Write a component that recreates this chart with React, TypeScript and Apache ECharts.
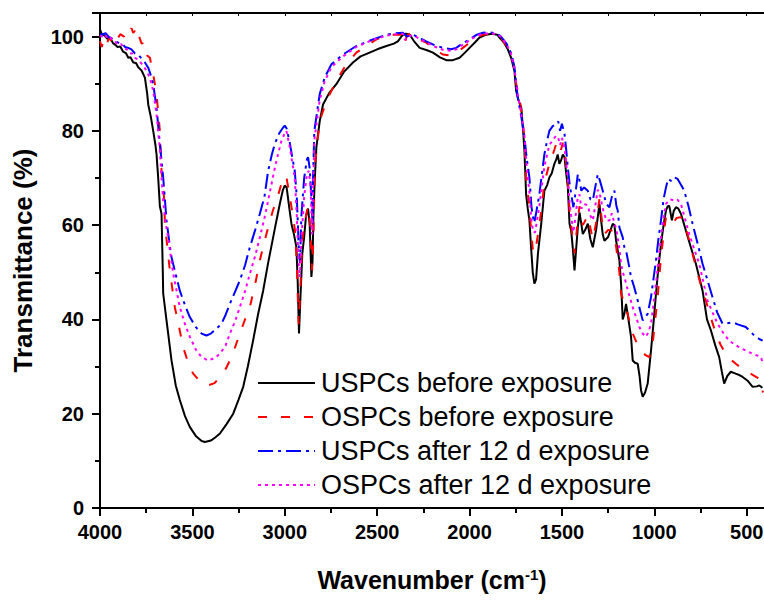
import React, { useEffect, useRef } from "react";
import * as echarts from "echarts";

const seriesNames = [
  "USPCs before exposure",
  "OSPCs before exposure",
  "USPCs after 12 d exposure",
  "OSPCs after 12 d exposure",
];

const xTicks = [4000, 3500, 3000, 2500, 2000, 1500, 1000, 500];
const yTicks = [0, 20, 40, 60, 80, 100];

const uspcBefore: [number, number][] = [
  [4000, 101.5], [3990, 100.5], [3975, 100.2], [3960, 99.5], [3945, 99.8], [3930, 98.6], [3919, 98.3],
  [3905, 97.8], [3890, 97.9], [3875, 96.8], [3860, 96.5], [3847, 95.5], [3835, 95.6], [3820, 94.5],
  [3805, 94.4], [3793, 93.5], [3775, 92.8], [3757, 91.3], [3745, 88], [3739, 85.6], [3725, 83],
  [3712, 80], [3700, 77], [3694, 75], [3685, 70], [3676, 64], [3667, 62.4], [3660, 50], [3658, 45.5],
  [3640, 39.8], [3613, 31.3], [3590, 26], [3568, 22.9], [3540, 19.5], [3514, 17.2], [3480, 15.2],
  [3450, 14.2], [3432, 14], [3400, 14.3], [3375, 15], [3351, 15.8], [3315, 17.8], [3279, 20],
  [3250, 23], [3225, 25.7], [3200, 30], [3171, 35.6], [3145, 41], [3117, 46.1], [3090, 52],
  [3063, 57.4], [3045, 61], [3027, 64.5], [3010, 67.5], [3000, 68.4], [2990, 68], [2975, 63.5],
  [2964, 60.3], [2950, 58], [2937, 55.3], [2930, 48], [2923, 37], [2915, 45], [2905, 54],
  [2895, 57.5], [2885, 62], [2874, 63.5], [2865, 60], [2856, 49], [2850, 52], [2845, 62],
  [2838, 69.4], [2829, 76.5], [2811, 82], [2793, 85.6], [2760, 88], [2721, 89.9], [2680, 92.5],
  [2631, 94.5], [2590, 95.8], [2541, 96.6], [2500, 97.3], [2450, 98], [2410, 98.5], [2388, 99],
  [2361, 100.4], [2345, 100.6], [2324, 100.4], [2300, 99], [2270, 97.6], [2230, 97.1], [2198, 96.6],
  [2160, 95.6], [2126, 95], [2090, 95], [2054, 95.5], [2025, 96.6], [2000, 97.6], [1970, 98.8],
  [1946, 99.8], [1910, 100.4], [1880, 100.6], [1850, 100.4], [1838, 99.8], [1815, 98.8], [1793, 97.3],
  [1775, 95.5], [1757, 92.7], [1748, 88.5], [1735, 86.5], [1720, 84.9], [1710, 80], [1703, 75.8],
  [1694, 66.6], [1685, 63.5], [1676, 61], [1667, 55.3], [1658, 50], [1649, 47.6], [1640, 48.5],
  [1630, 53.9], [1612, 60.3], [1595, 67.3], [1580, 68.5], [1568, 70.1], [1555, 71], [1541, 73],
  [1530, 74], [1523, 75], [1514, 73], [1505, 73.7], [1495, 75], [1486, 74.4], [1477, 71],
  [1468, 68], [1459, 60.3], [1450, 58.8], [1441, 55], [1432, 50.4], [1423, 55], [1414, 59.5],
  [1405, 62.7], [1396, 60.5], [1387, 58.1], [1374, 59], [1360, 60.3], [1346, 57], [1333, 55.3],
  [1315, 59], [1297, 64.5], [1288, 61], [1279, 58], [1270, 56.7], [1250, 57.5], [1225, 60.3],
  [1216, 60], [1207, 56.7], [1189, 52.5], [1180, 47.6], [1171, 40], [1162, 41.2], [1153, 43.3],
  [1140, 40], [1126, 36.3], [1117, 31.3], [1105, 30.8], [1090, 30.6], [1080, 28], [1072, 25],
  [1063, 23.6], [1050, 24.5], [1036, 26.4], [1018, 33.4], [1005, 39], [991, 45.4], [978, 51],
  [964, 56], [950, 60], [937, 63.1], [928, 64], [919, 64.1], [905, 61], [895, 63], [883, 63.8],
  [870, 63.5], [856, 62.4], [845, 61], [829, 58.8], [800, 55], [775, 51.8], [739, 46.1], [715, 40],
  [694, 37.7], [670, 34.5], [649, 32], [635, 29], [622, 26.4], [605, 28], [586, 28.9], [560, 28.5],
  [540, 28.2], [522, 27.8], [495, 27], [468, 25.7], [445, 25.8], [432, 26], [415, 25.5],
];

const ospcBefore: [number, number][] = [
  [4000, 99], [3990, 97.8], [3980, 99.5], [3965, 98.3], [3950, 99.8], [3935, 98.8], [3920, 100.2],
  [3905, 99.6], [3890, 100.5], [3870, 100], [3856, 101.2], [3845, 100.6], [3830, 101.8], [3820, 100.8],
  [3811, 101.2], [3800, 99.4], [3790, 100.2], [3775, 98.5], [3757, 98.7], [3745, 96], [3730, 95.5],
  [3712, 92], [3694, 87.8], [3676, 80], [3667, 71.5], [3652, 65.2], [3649, 60.3], [3622, 50.4],
  [3595, 42.6], [3570, 38], [3550, 34.1], [3520, 30.5], [3496, 28.5], [3450, 26.5], [3415, 26],
  [3380, 26.5], [3351, 27.8], [3320, 29.5], [3297, 31.3], [3270, 34], [3243, 37], [3215, 40],
  [3189, 42.6], [3160, 47.5], [3135, 52.5], [3110, 56.5], [3090, 59.5], [3065, 63], [3045, 65.2],
  [3020, 68.5], [3000, 70.5], [2990, 70], [2975, 66.5], [2960, 63], [2945, 59], [2935, 52],
  [2925, 39], [2915, 47], [2905, 57], [2890, 61], [2875, 64], [2862, 60], [2852, 50.4], [2845, 57],
  [2838, 72.2], [2811, 82.1], [2775, 86.3], [2721, 90.6], [2667, 94.1], [2613, 96.6], [2559, 98],
  [2504, 99.4], [2432, 100.4], [2370, 100.4], [2358, 99.5], [2351, 98.3], [2340, 100.2], [2315, 100.8],
  [2280, 99.5], [2234, 98.7], [2190, 97.3], [2144, 96.2], [2100, 96], [2072, 96.6], [2040, 97.5],
  [2000, 98.7], [1960, 99.8], [1928, 100.4], [1890, 100.6], [1850, 100.3], [1830, 99.8], [1800, 98],
  [1775, 96], [1757, 93.5], [1748, 90], [1730, 87], [1715, 83], [1703, 78.5], [1694, 70], [1676, 64],
  [1667, 59], [1658, 55], [1650, 54], [1640, 55.5], [1630, 58], [1612, 63], [1595, 69], [1568, 73],
  [1541, 76], [1525, 78], [1514, 77], [1505, 76], [1495, 77.5], [1486, 76], [1468, 70], [1459, 63],
  [1450, 60], [1432, 54], [1423, 57.5], [1414, 61.5], [1405, 64], [1387, 60], [1360, 62], [1333, 57],
  [1315, 60.5], [1297, 65.5], [1279, 59.5], [1270, 58], [1250, 59], [1225, 58.8], [1207, 55.5],
  [1189, 50], [1180, 45.4], [1171, 44.5], [1162, 44], [1140, 40.5], [1117, 37], [1095, 35],
  [1072, 33.4], [1050, 32.5], [1027, 32], [1009, 34.9], [995, 40], [982, 44.7], [964, 53.2],
  [950, 58], [937, 61.7], [920, 61.5], [901, 60.3], [880, 61.5], [856, 61.7], [838, 60], [820, 58.1],
  [800, 55], [775, 51.1], [750, 47.5], [721, 44], [695, 40.5], [667, 37], [640, 34.5], [613, 32.7],
  [586, 31.5], [559, 30.6], [530, 29.7], [505, 29.2], [480, 28.5], [450, 27.8], [425, 27.3], [412, 24.5],
];

const uspcAfter: [number, number][] = [
  [4000, 100.5], [3991, 100.4], [3970, 100.7], [3950, 99.8], [3935, 99.6], [3919, 99], [3900, 98.7],
  [3880, 98.5], [3865, 97.8], [3847, 97.6], [3830, 97.3], [3810, 96.4], [3793, 96.2], [3775, 95.3],
  [3757, 94.5], [3739, 93.4], [3725, 91.8], [3712, 89.9], [3694, 84.9], [3676, 77.2], [3658, 70.1],
  [3640, 61], [3620, 55], [3613, 53.2], [3590, 49.5], [3568, 46.1], [3540, 43], [3514, 40.5],
  [3480, 38.3], [3450, 37], [3424, 36.6], [3400, 37], [3370, 38], [3342, 39.1], [3320, 41],
  [3297, 43.3], [3270, 45.8], [3243, 48.3], [3215, 51.5], [3189, 55.3], [3160, 59], [3135, 62.4],
  [3110, 66], [3090, 71.5], [3070, 75], [3054, 77.2], [3030, 79.5], [3009, 80.7], [3000, 81.1],
  [2990, 80.5], [2973, 77.5], [2960, 74.5], [2946, 71.5], [2935, 66], [2925, 56], [2918, 52],
  [2910, 62], [2895, 70], [2880, 74], [2874, 74.4], [2865, 72], [2856, 66], [2850, 60], [2847, 70],
  [2840, 80], [2811, 87.8], [2784, 91.3], [2748, 94.1], [2685, 96.2], [2613, 98], [2523, 99.4],
  [2450, 100.4], [2400, 100.7], [2361, 100.8], [2340, 100], [2306, 100.4], [2270, 99.7], [2234, 99],
  [2190, 98.2], [2144, 97.6], [2100, 97.3], [2072, 97.6], [2040, 98.5], [2000, 99.4], [1960, 100.4],
  [1928, 100.8], [1890, 100.9], [1850, 100.6], [1830, 100], [1800, 98.5], [1775, 96.5], [1757, 93.5],
  [1739, 87], [1720, 83], [1703, 78.6], [1690, 74], [1676, 70.1], [1665, 64], [1658, 62], [1650, 60.5],
  [1640, 62.5], [1622, 66.6], [1608, 71], [1595, 75], [1580, 78], [1568, 80], [1550, 81], [1532, 81.4],
  [1520, 82], [1510, 80], [1500, 81.5], [1486, 79.3], [1477, 76], [1468, 72.2], [1459, 69],
  [1450, 66.6], [1438, 63.8], [1426, 67], [1414, 70.8], [1405, 69.5], [1395, 67.3], [1380, 68],
  [1360, 67.3], [1346, 65.5], [1333, 65.2], [1320, 68], [1306, 70.8], [1295, 69.5], [1279, 67.3],
  [1260, 64.5], [1243, 63.8], [1230, 66], [1216, 67.3], [1205, 64], [1198, 63.1], [1189, 59.5],
  [1171, 57.4], [1162, 55.3], [1153, 54.6], [1140, 52], [1126, 49], [1110, 47], [1099, 45.4],
  [1081, 42.6], [1063, 39.8], [1050, 40.5], [1036, 41.2], [1018, 44.7], [1005, 48.5], [991, 52.5],
  [978, 57], [964, 61], [950, 65.5], [937, 68], [925, 69.8], [910, 69.4], [895, 70.2], [874, 69.8],
  [855, 68.5], [838, 67.3], [815, 64], [793, 60.3], [765, 56], [739, 51.8], [710, 48], [685, 44.7],
  [660, 41.5], [631, 39.1], [605, 39.2], [577, 39.4], [545, 38.9], [505, 38.4], [475, 37.2],
  [450, 36.3], [430, 35.8], [414, 35.5],
];

const ospcAfter: [number, number][] = [
  [4000, 100.2], [3990, 100], [3975, 100.5], [3960, 99.6], [3945, 99.9], [3930, 99], [3915, 98.8],
  [3900, 98.2], [3885, 98.4], [3870, 97.5], [3855, 97.3], [3840, 96.5], [3825, 96.4], [3810, 95.5],
  [3790, 95], [3770, 94], [3757, 93.3], [3739, 92], [3725, 90.5], [3712, 88.5], [3694, 83.5],
  [3676, 76], [3667, 70], [3658, 65.2], [3645, 60.5], [3631, 57.4], [3604, 49.7], [3585, 46],
  [3568, 42.6], [3540, 39], [3514, 36.3], [3480, 33.5], [3450, 32], [3415, 31.3], [3380, 31.8],
  [3351, 32.7], [3320, 34.5], [3297, 37], [3270, 39.5], [3243, 42.6], [3215, 46], [3189, 49.7],
  [3160, 53.5], [3135, 57.4], [3110, 61.5], [3090, 65.2], [3060, 71], [3040, 74.5], [3018, 77.9],
  [3000, 79.5], [2991, 80], [2975, 77], [2964, 74.4], [2946, 70.1], [2935, 62], [2925, 52],
  [2918, 49], [2910, 57], [2895, 66], [2880, 71], [2870, 71.5], [2860, 68], [2852, 58], [2848, 65],
  [2840, 78], [2811, 86.5], [2784, 90.5], [2748, 93.5], [2685, 95.8], [2613, 97.8], [2523, 99.3],
  [2450, 100.2], [2400, 100.5], [2361, 100.6], [2350, 99.3], [2335, 100], [2306, 100.3], [2270, 99.5],
  [2234, 98.8], [2190, 97.9], [2144, 97.2], [2100, 97], [2072, 97.3], [2040, 98.2], [2000, 99.2],
  [1960, 100.2], [1928, 100.6], [1890, 100.7], [1850, 100.5], [1830, 99.9], [1800, 98.4], [1775, 96.3],
  [1757, 93.3], [1739, 87.5], [1720, 83.5], [1703, 79], [1690, 72], [1676, 67], [1665, 61],
  [1655, 58.5], [1645, 58.5], [1635, 61], [1622, 64], [1608, 68.5], [1595, 72.5], [1580, 75],
  [1568, 77], [1550, 78], [1532, 79], [1520, 78.5], [1510, 77], [1500, 78.5], [1486, 76.5],
  [1477, 73], [1468, 69.5], [1459, 65], [1450, 62], [1438, 58.5], [1426, 62], [1414, 66],
  [1405, 66.5], [1395, 63.5], [1380, 64.5], [1360, 64.2], [1346, 62], [1333, 61], [1320, 64],
  [1306, 67.5], [1295, 66.6], [1279, 63.5], [1260, 61], [1243, 61], [1230, 62.5], [1225, 61.7],
  [1205, 59], [1189, 55], [1180, 51.8], [1171, 50], [1162, 49], [1153, 47.6], [1135, 45],
  [1117, 42.6], [1099, 40.5], [1081, 38.4], [1063, 37], [1045, 36.3], [1030, 37.5], [1018, 39.1],
  [1005, 43], [991, 47.6], [978, 52.5], [964, 57.4], [950, 61.5], [937, 64.5], [915, 65.5],
  [892, 65.2], [875, 65.4], [856, 64.5], [835, 61.5], [811, 58.1], [785, 55], [757, 51.8], [735, 48],
  [712, 44], [685, 41.5], [658, 39.1], [625, 37], [595, 35.5], [570, 34.8], [541, 34.1], [505, 33.4],
  [468, 32.7], [440, 32.3], [423, 32], [412, 30.5],
];

const FONT = "'Liberation Sans', Arial, Helvetica, sans-serif";

export default function App() {
  const ref = useRef<HTMLDivElement>(null);
  useEffect(() => {
    document.body.style.margin = "0";
    document.body.style.overflow = "hidden";
    document.documentElement.style.overflow = "hidden";
    if (!ref.current) return;
    const chart = echarts.init(ref.current, null, { renderer: "svg" });
    const colors = ["#000000", "#ff0000", "#0000ff", "#ff00ff"];
    const dashes: any[] = ["solid", [9, 14], [15, 5, 3, 5], [3, 4]];
    const graphDashes: any[] = [null, [9, 14], [15, 5, 3, 5], [3, 4]];
    const datas = [uspcBefore, ospcBefore, uspcAfter, ospcAfter];
    const legendTop = 383;
    const rowGap = 34;
    const graphics: any[] = [];
    seriesNames.forEach((name, i) => {
      const y = legendTop + i * rowGap;
      graphics.push({
        type: "line",
        shape: { x1: 258, y1: y, x2: 315, y2: y },
        style: { stroke: colors[i], lineWidth: 2, lineDash: graphDashes[i] },
        silent: true,
      });
      graphics.push({
        type: "text",
        x: 321,
        y: y,
        style: {
          text: name,
          fontSize: 27,
          fontFamily: FONT,
          fill: "#000",
          verticalAlign: "middle",
          align: "left",
        },
        silent: true,
      });
    });
    graphics.push({
      type: "text",
      x: 432,
      y: 580,
      silent: true,
      style: {
        text: "{a|Wavenumber (cm}{s|-1}{a|)}",
        align: "center",
        verticalAlign: "middle",
        fill: "#000",
        rich: {
          a: { fontSize: 25, fontWeight: "bold", fontFamily: FONT, fill: "#000" },
          s: { fontSize: 15, fontWeight: "bold", fontFamily: FONT, fill: "#000", verticalAlign: "top", padding: [0, 0, 12, 0] },
        },
      },
    });
    chart.setOption({
      animation: false,
      backgroundColor: "#ffffff",
      grid: { left: 100, top: 13, right: 0.9, bottom: 92, containLabel: false, outerBoundsMode: "none" },
      graphic: graphics,
      xAxis: [
        {
          type: "value",
          inverse: true,
          min: 0,
          max: 4000,
          interval: 500,
          position: "bottom",
          axisLine: { show: true, onZero: false, lineStyle: { color: "#000", width: 2 } },
          axisTick: { show: true, inside: false, length: 8, lineStyle: { color: "#000", width: 2 } },
          minorTick: { show: true, splitNumber: 2, length: 5, lineStyle: { color: "#000", width: 2 } },
          splitLine: { show: false },
          axisLabel: {
            margin: 14,
            fontSize: 20,
            fontWeight: "bold",
            fontFamily: FONT,
            color: "#000",
            formatter: (v: number) => (xTicks.includes(v) ? String(v) : ""),
          },
        },
        {
          type: "value",
          inverse: true,
          min: 0,
          max: 4000,
          interval: 250,
          position: "top",
          axisLine: { show: true, onZero: false, lineStyle: { color: "#000", width: 2 } },
          axisTick: { show: true, inside: true, length: 3, lineStyle: { color: "#000", width: 1 } },
          axisLabel: { show: false },
          splitLine: { show: false },
        },
      ],
      yAxis: {
        type: "value",
        min: 0,
        max: 105,
        interval: 20,
        name: "Transmittance (%)",
        nameLocation: "middle",
        nameGap: 64,
        nameTextStyle: { fontSize: 26, fontWeight: "bold", fontFamily: FONT, color: "#000" },
        axisLine: { show: true, onZero: false, lineStyle: { color: "#000", width: 2 } },
        axisTick: { show: true, inside: false, length: 8, lineStyle: { color: "#000", width: 2 } },
        minorTick: { show: true, splitNumber: 2, length: 5, lineStyle: { color: "#000", width: 2 } },
        splitLine: { show: false },
        axisLabel: {
          margin: 16,
          fontSize: 20,
          fontWeight: "bold",
          fontFamily: FONT,
          color: "#000",
          formatter: (v: number) => (yTicks.includes(v) ? String(v) : ""),
        },
      },
      series: datas.map((d, i) => ({
        name: seriesNames[i],
        type: "line",
        data: d,
        xAxisIndex: 0,
        yAxisIndex: 0,
        symbol: "none",
        showSymbol: false,
        lineStyle: { color: colors[i], width: 2, type: dashes[i] },
        itemStyle: { color: colors[i] },
      })),
    });
    return () => chart.dispose();
  }, []);
  return <div ref={ref} style={{ width: 840, height: 600 }} />;
}
